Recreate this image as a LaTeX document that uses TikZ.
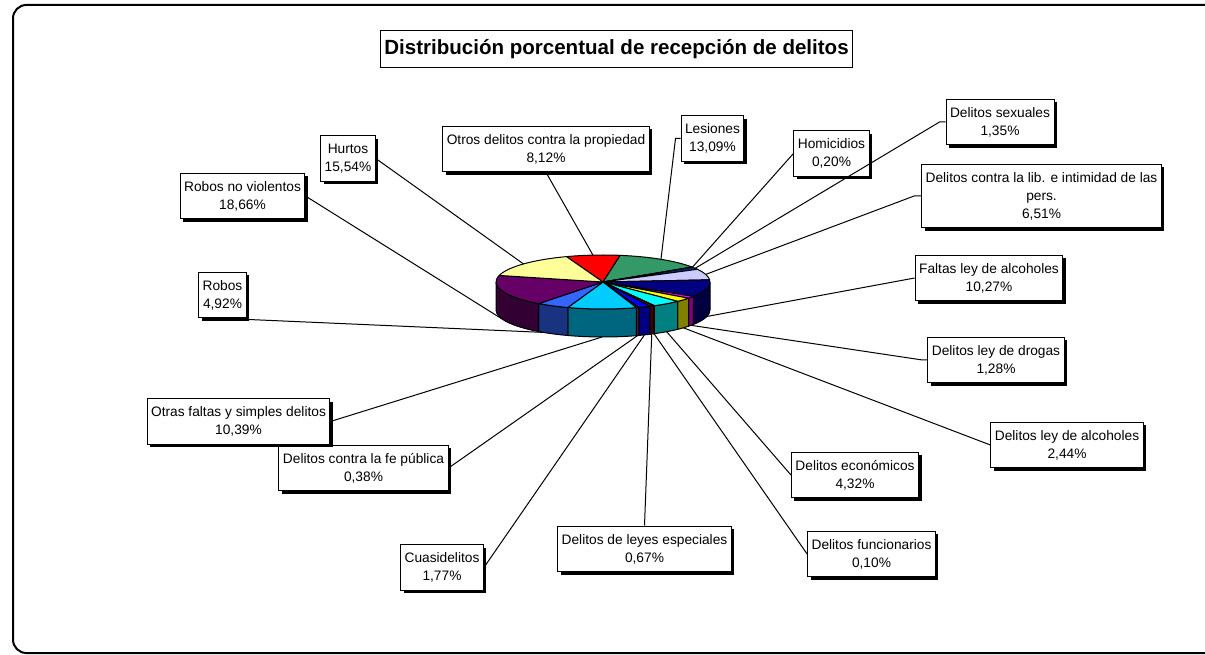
\documentclass[tikz,border=0pt]{standalone}
\usepackage{fontspec}
\setmainfont{Liberation Sans}
\usetikzlibrary{shadows}

\definecolor{cOtros}{RGB}{255,0,0}
\definecolor{cLesiones}{RGB}{51,153,102}
\definecolor{cHomicidios}{RGB}{0,0,128}
\definecolor{cSexuales}{RGB}{0,51,153}
\definecolor{cLib}{RGB}{204,204,255}
\definecolor{cFaltasAlc}{RGB}{0,0,128}
\definecolor{cDrogas}{RGB}{255,0,255}
\definecolor{cLeyAlc}{RGB}{255,255,0}
\definecolor{cEconomicos}{RGB}{0,255,255}
\definecolor{cFuncionarios}{RGB}{0,128,128}
\definecolor{cEspeciales}{RGB}{128,0,0}
\definecolor{cCuasi}{RGB}{0,0,255}
\definecolor{cFe}{RGB}{153,51,102}
\definecolor{cOtrasFaltas}{RGB}{0,204,255}
\definecolor{cRobos}{RGB}{51,102,255}
\definecolor{cRobosNV}{RGB}{102,0,102}
\definecolor{cHurtos}{RGB}{255,255,153}

\tikzset{
  lbl/.style={draw, fill=white, line width=0.75pt, align=center,
    font=\fontsize{10.3pt}{13.5pt}\selectfont, inner xsep=3pt, inner ysep=6pt,
    drop shadow={shadow xshift=2.25pt, shadow yshift=-2.25pt, opacity=1, fill=black}},
  leader/.style={line width=0.75pt},
  slice/.style={draw, line width=0.75pt, line join=round},
}

\begin{document}
\begin{tikzpicture}[x=0.75pt, y=-0.75pt]
  \useasboundingbox (0,0) rectangle (1205,655);
  \clip (0,0) rectangle (1205,655);

% chart frame
  \draw[line width=1.5pt, rounded corners=10pt] (13,5) rectangle (1260,653);

% title
  \node[draw, line width=0.75pt, minimum height=27.75pt, inner xsep=3pt,
    font=\fontsize{15.4pt}{18pt}\selectfont\bfseries] (title) at (616.5,49.5)
    {Distribución porcentual de recepción de delitos};

% the pie
  \coordinate (C) at (603,282);

% front sides of the slices
  \foreach \a/\b/\c in {0/32.34/cFaltasAlc, 32.34/36.95/cDrogas,
      36.95/45.74/cLeyAlc, 45.74/61.29/cEconomicos, 61.29/61.65/cFuncionarios,
      61.65/64.06/cEspeciales, 64.06/70.43/cCuasi, 70.43/71.80/cFe,
      71.80/109.20/cOtrasFaltas, 109.20/126.92/cRobos, 126.92/180/cRobosNV}
    \draw[slice, fill=\c!50!black] (C) ++(\a:107 and 27)
      arc[start angle=\a, end angle=\b, x radius=107, y radius=27] -- ++(0,28)
      arc[start angle=\b, end angle=\a, x radius=107, y radius=27] -- cycle;

% top faces of the slices
  \foreach \a/\b/\c in {-110/-80.77/cOtros, -80.77/-33.64/cLesiones,
      -33.64/-32.92/cHomicidios, -32.92/-28.06/cSexuales, -28.06/-4.63/cLib,
      -4.63/32.34/cFaltasAlc, 32.34/36.95/cDrogas, 36.95/45.74/cLeyAlc,
      45.74/61.29/cEconomicos, 61.29/61.65/cFuncionarios,
      61.65/64.06/cEspeciales, 64.06/70.43/cCuasi, 70.43/71.80/cFe,
      71.80/109.20/cOtrasFaltas, 109.20/126.92/cRobos,
      126.92/194.09/cRobosNV, 194.09/250/cHurtos}
    \draw[slice, fill=\c] (C) -- ++(\a:107 and 27)
      arc[start angle=\a, end angle=\b, x radius=107, y radius=27] -- cycle;

% points where the leaders meet the pie
  \path (C) ++(-95.4:107 and 27) coordinate (pOtros);
  \path (C) ++(-57.2:107 and 27) coordinate (pLesiones);
  \path (C) ++(-33.3:107 and 27) coordinate (pHomicidios);
  \path (C) ++(-30.5:107 and 27) coordinate (pSexuales);
  \path (C) ++(-16.3:107 and 27) coordinate (pLib);
  \path (C) ++(13.9:107 and 27) ++(0,28) coordinate (pFaltasAlc);
  \path (C) ++(34.6:107 and 27) ++(0,28) coordinate (pDrogas);
  \path (C) ++(41.3:107 and 27) ++(0,28) coordinate (pLeyAlc);
  \path (C) ++(53.5:107 and 27) ++(0,28) coordinate (pEconomicos);
  \path (C) ++(61.5:107 and 27) ++(0,28) coordinate (pFuncionarios);
  \path (C) ++(62.9:107 and 27) ++(0,28) coordinate (pEspeciales);
  \path (C) ++(67.2:107 and 27) ++(0,28) coordinate (pCuasi);
  \path (C) ++(71.1:107 and 27) ++(0,28) coordinate (pFe);
  \path (C) ++(90.5:107 and 27) ++(0,28) coordinate (pOtrasFaltas);
  \path (C) ++(124:107 and 27) ++(0,28) coordinate (pRobos);
  \path (C) ++(160.5:107 and 27) ++(0,28) coordinate (pRobosNV);
  \path (C) ++(222:107 and 27) coordinate (pHurtos);

% data labels
  \node[lbl] (hurtos)      at (348,158.5)  {Hurtos\\15,54\%};
  \node[lbl] (robosnv)     at (242.5,196)  {Robos no violentos\\18,66\%};
  \node[lbl] (otros)       at (546,149)    {Otros delitos contra la propiedad\\8,12\%};
  \node[lbl] (lesiones)    at (712.5,138.5){Lesiones\\13,09\%};
  \node[lbl] (homicidios)  at (831.5,153.5){Homicidios\\0,20\%};
  \node[lbl] (sexuales)    at (1000,122)   {Delitos sexuales\\1,35\%};
  \node[lbl] (lib)         at (1041.5,196) {Delitos contra la lib. e intimidad de las\\pers.\\6,51\%};
  \node[lbl] (faltasalc)   at (989,278)    {Faltas ley de alcoholes\\10,27\%};
  \node[lbl] (drogas)      at (996,360)    {Delitos ley de drogas\\1,28\%};
  \node[lbl] (leyalc)      at (1067,445)   {Delitos ley de alcoholes\\2,44\%};
  \node[lbl] (economicos)  at (855,475)    {Delitos económicos\\4,32\%};
  \node[lbl] (funcionarios)at (871.5,554)  {Delitos funcionarios\\0,10\%};
  \node[lbl] (especiales)  at (644.5,549)  {Delitos de leyes especiales\\0,67\%};
  \node[lbl] (cuasi)       at (442,567.5)  {Cuasidelitos\\1,77\%};
  \node[lbl] (fe)          at (363.5,468)  {Delitos contra la fe pública\\0,38\%};
  \node[lbl] (otrasfaltas) at (238.5,421.5){Otras faltas y simples delitos\\10,39\%};
  \node[lbl] (robos)       at (222.5,295)  {Robos\\4,92\%};

% leader lines
  \draw[leader] (hurtos.east) -- (pHurtos);
  \draw[leader] (robosnv.east) -- (pRobosNV);
  \draw[leader] (otros.south) -- (pOtros);
  \draw[leader] (lesiones.west) -- ++(-5,0) -- (pLesiones);
  \draw[leader] (homicidios.west) -- (pHomicidios);
  \draw[leader] (sexuales.west) -- ++(-6,0) -- (pSexuales);
  \draw[leader] (lib.west) -- ++(-7,0) -- (pLib);
  \draw[leader] (faltasalc.west) -- (pFaltasAlc);
  \draw[leader] (drogas.west) -- ++(-5,0) -- (pDrogas);
  \draw[leader] (leyalc.west) -- (pLeyAlc);
  \draw[leader] (economicos.west) -- (pEconomicos);
  \draw[leader] (funcionarios.west) -- (pFuncionarios);
  \draw[leader] (especiales.north) -- (pEspeciales);
  \draw[leader] (cuasi.east) -- (pCuasi);
  \draw[leader] (fe.east) -- (pFe);
  \draw[leader] (otrasfaltas.east) -- (pOtrasFaltas);
  \draw[leader] (robos.south) -- (pRobos);
\end{tikzpicture}
\end{document}
